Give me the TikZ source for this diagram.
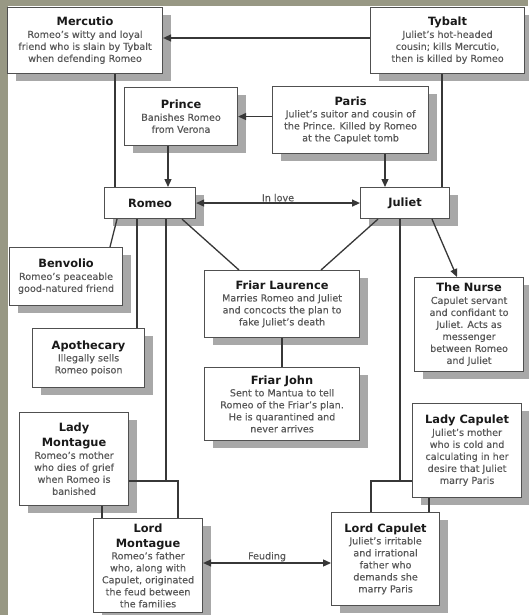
\documentclass[tikz,border=0pt]{standalone}
\usepackage{fontspec}
\setmainfont{DejaVu Sans}
\newfontface\descface[FakeBold=0.35]{DejaVu Sans}
\usetikzlibrary{arrows.meta,shadows}
\definecolor{bgolive}{RGB}{152,152,132}
\definecolor{shadowgray}{RGB}{168,168,168}
\definecolor{boxline}{RGB}{80,80,80}
\definecolor{linkcol}{RGB}{55,55,55}
\definecolor{desccol}{RGB}{88,88,88}
\definecolor{titlecol}{RGB}{25,25,25}
\newcommand{\ttl}[1]{{\normalfont\fontsize{11.4}{13}\selectfont\bfseries\color{titlecol}#1}}
\begin{document}
\begin{tikzpicture}[x=1pt,y=-1pt,
  card/.style={draw=boxline, line width=1.1pt, fill=white, inner sep=0pt, align=center, anchor=north west,
     font=\descface\fontsize{9.6}{12}\selectfont, text=desccol,
     general shadow={fill=shadowgray, shadow xshift=8pt, shadow yshift=-7pt}},
  link/.style={draw=linkcol, line width=1.3pt},
  arr/.style={link, -{Triangle[length=8pt,width=7pt]}},
  darr/.style={link, {Triangle[length=8pt,width=7pt]}-{Triangle[length=8pt,width=7pt]}},
  lbl/.style={font=\descface\fontsize{9.6}{12}\selectfont, text=desccol, inner sep=1pt}]

\fill[bgolive] (0,0) rectangle (528,615);
\fill[white] (8,6) rectangle (528,615);
\useasboundingbox (0,0) rectangle (528,615);

% boxes
\node[card, minimum width=155pt, minimum height=66pt] (mercutio) at (7,7)
  {\ttl{Mercutio}\\Romeo’s witty and loyal\\friend who is slain by Tybalt\\when defending Romeo};
\node[card, minimum width=154pt, minimum height=66pt] (tybalt) at (370,7)
  {\ttl{Tybalt}\\Juliet’s hot-headed\\cousin; kills Mercutio,\\then is killed by Romeo};
\node[card, minimum width=113pt, minimum height=58pt] (prince) at (124,87)
  {\ttl{Prince}\\Banishes Romeo\\from Verona};
\node[card, minimum width=156pt, minimum height=67pt] (paris) at (272,86)
  {\ttl{Paris}\\Juliet’s suitor and cousin of\\the Prince. Killed by Romeo\\at the Capulet tomb};
\node[card, minimum width=91pt, minimum height=31pt] (romeo) at (104,187)
  {\ttl{Romeo}};
\node[card, minimum width=89pt, minimum height=31pt] (juliet) at (360,187)
  {\ttl{Juliet}};
\node[card, minimum width=113pt, minimum height=58pt] (benvolio) at (9,247)
  {\ttl{Benvolio}\\Romeo’s peaceable\\good-natured friend};
\node[card, minimum width=112pt, minimum height=59pt] (apothecary) at (32,328)
  {\ttl{Apothecary}\\Illegally sells\\Romeo poison};
\node[card, minimum width=155pt, minimum height=67pt] (laurence) at (204,270)
  {\ttl{Friar Laurence}\\Marries Romeo and Juliet\\and concocts the plan to\\fake Juliet’s death};
\node[card, minimum width=155pt, minimum height=73pt] (john) at (204,367)
  {\ttl{Friar John}\\Sent to Mantua to tell\\Romeo of the Friar’s plan.\\He is quarantined and\\never arrives};
\node[card, minimum width=109pt, minimum height=94pt] (nurse) at (414,277)
  {\ttl{The Nurse}\\Capulet servant\\and confidant to\\Juliet. Acts as\\messenger\\between Romeo\\and Juliet};
\node[card, minimum width=109pt, minimum height=93pt] (ladym) at (19,412)
  {\ttl{Lady}\\[3pt]\ttl{Montague}\\Romeo’s mother\\who dies of grief\\when Romeo is\\banished};
\node[card, minimum width=109pt, minimum height=94pt] (lordm) at (93,518)
  {\ttl{Lord}\\[3pt]\ttl{Montague}\\Romeo’s father\\who, along with\\Capulet, originated\\the feud between\\the families};
\node[card, minimum width=109pt, minimum height=94pt] (ladyc) at (412,403)
  {\ttl{Lady Capulet}\\Juliet’s mother\\who is cold and\\calculating in her\\desire that Juliet\\marry Paris};
\node[card, minimum width=108pt, minimum height=93pt] (lordc) at (331,512)
  {\ttl{Lord Capulet}\\Juliet’s irritable\\and irrational\\father who\\demands she\\marry Paris};

% helper coordinates
\coordinate (yMT) at (0,38);
\coordinate (xPR) at (168,0);
\coordinate (xMR) at (115,0);
\coordinate (xPJ) at (385,0);
\coordinate (xTJ) at (442,0);
\coordinate (xRB) at (117,0);
\coordinate (xBR) at (110,0);
\coordinate (xRA) at (137,0);
\coordinate (xRL) at (182,0);
\coordinate (xLR) at (239,0);
\coordinate (xJL) at (378,0);
\coordinate (xLJ) at (321,0);
\coordinate (xJN) at (432,0);
\coordinate (xNJ) at (457,0);
\coordinate (jm) at (166,481);
\coordinate (xLM) at (178,0);
\coordinate (xLL) at (102,0);
\coordinate (jc) at (400,481);
\coordinate (xLC) at (371,0);
\coordinate (xCC) at (429,0);
\coordinate (yF) at (0,563);

% connectors
\draw[arr] (tybalt.west |- yMT) -- (mercutio.east |- yMT);
\draw[arr] (paris.west |- prince.east) -- (prince.east);
\draw[arr] (prince.south -| xPR) -- (romeo.north -| xPR);
\draw[link] (mercutio.south -| xMR) -- (romeo.north -| xMR);
\draw[arr] (paris.south -| xPJ) -- (juliet.north -| xPJ);
\draw[link] (tybalt.south -| xTJ) -- (juliet.north -| xTJ);
\draw[darr] (romeo.east) -- node[lbl, above=0pt] {In love} (juliet.west);
\draw[link] (romeo.south -| xRB) -- (benvolio.north -| xBR);
\draw[link] (romeo.south -| xRA) -- (apothecary.north -| xRA);
\draw[link] (romeo.south -| xRL) -- (laurence.north -| xLR);
\draw[link] (juliet.south -| xJL) -- (laurence.north -| xLJ);
\draw[link] (laurence.south) -- (john.north);
\draw[arr] (juliet.south -| xJN) -- (nurse.north -| xNJ);
\draw[link] (romeo.south -| jm) -- (jm);
\draw[link] (ladym.east |- jm) -- (jm -| xLM) -- (lordm.north -| xLM);
\draw[link] (ladym.south -| xLL) -- (lordm.north -| xLL);
\draw[link] (juliet.south -| jc) -- (jc);
\draw[link] (ladyc.west |- jc) -- (jc -| xLC) -- (lordc.north -| xLC);
\draw[link] (ladyc.south -| xCC) -- (lordc.north -| xCC);
\draw[darr] (lordm.east |- yF) -- node[lbl, above=0pt] {Feuding} (lordc.west |- yF);
\end{tikzpicture}
\end{document}
